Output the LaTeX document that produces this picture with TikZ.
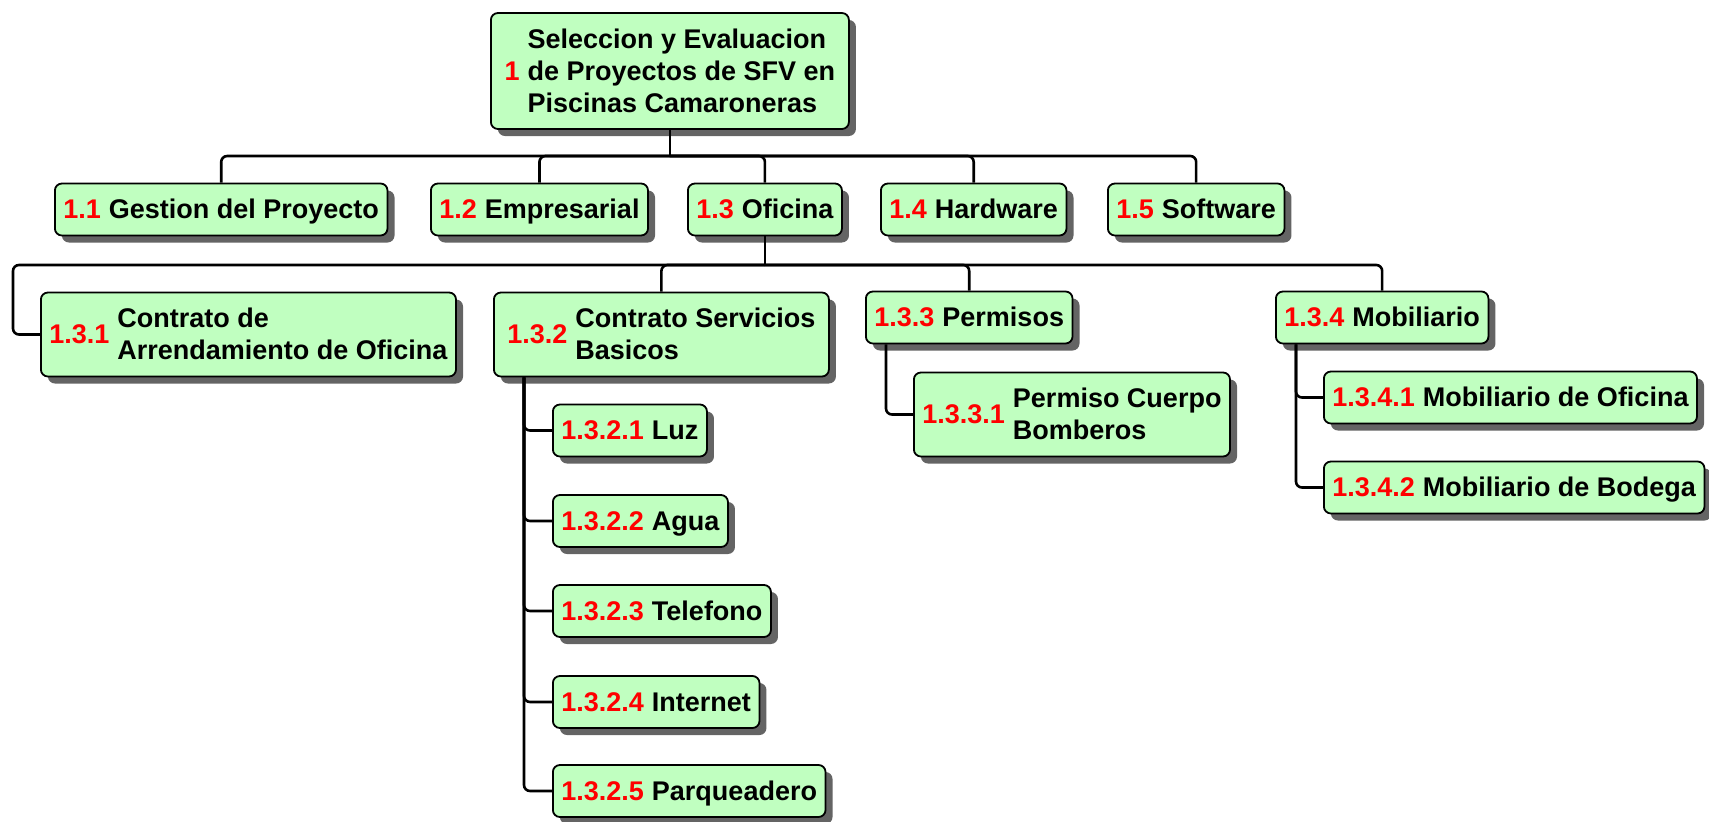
\documentclass[tikz,border=0pt]{standalone}
\usepackage{fontspec}
\setmainfont{Liberation Sans}
\usetikzlibrary{shadows}
\definecolor{boxgreen}{RGB}{192,255,192}
\definecolor{numred}{RGB}{255,0,0}
\definecolor{shadowgray}{RGB}{100,100,100}
\newcommand{\wbsentry}[2]{\raisebox{-3pt}[\height][\depth]{\begin{tabular}{@{}l@{}}\textcolor{numred}{#1}\end{tabular}\hspace{8pt}\begin{tabular}{@{}l@{}}#2\end{tabular}}}
\tikzset{
  wbsbox/.style={draw=black, line width=1.8pt, fill=boxgreen, rounded corners=7pt,
    inner xsep=8.5pt, inner ysep=10pt, anchor=west,
    font=\fontsize{27}{32}\selectfont\bfseries,
    drop shadow={shadow xshift=7pt, shadow yshift=-7pt, fill=shadowgray, opacity=1}},
  conn/.style={draw=black, line width=2.6pt, rounded corners=6pt}
}
\begin{document}
\begin{tikzpicture}[x=1pt, y=-1pt]
\useasboundingbox (0,0) rectangle (1709,822);
% nodes
\node[wbsbox, minimum width=358pt] (n1) at (490,71) {\wbsentry{1}{Seleccion y Evaluacion\\de Proyectos de SFV en\\Piscinas Camaroneras}};
\node[wbsbox] (n11) at (54,209.5) {\wbsentry{1.1}{Gestion del Proyecto}};
\node[wbsbox] (n12) at (430,209.5) {\wbsentry{1.2}{Empresarial}};
\node[wbsbox] (n13) at (687,209.5) {\wbsentry{1.3}{Oficina}};
\node[wbsbox] (n14) at (880,209.5) {\wbsentry{1.4}{Hardware}};
\node[wbsbox] (n15) at (1107,209.5) {\wbsentry{1.5}{Software}};
\node[wbsbox] (n131) at (40,334.5) {\wbsentry{1.3.1}{Contrato de\\Arrendamiento de Oficina}};
\node[wbsbox, minimum width=335pt] (n132) at (493,334.5) {\wbsentry{1.3.2}{Contrato Servicios\\Basicos}\hspace{10pt}};
\node[wbsbox] (n133) at (865,317.5) {\wbsentry{1.3.3}{Permisos}};
\node[wbsbox] (n134) at (1275,317.5) {\wbsentry{1.3.4}{Mobiliario}};
\node[wbsbox] (n1321) at (552,430.5) {\wbsentry{1.3.2.1}{Luz}};
\node[wbsbox] (n1322) at (552,521) {\wbsentry{1.3.2.2}{Agua}};
\node[wbsbox] (n1323) at (552,611) {\wbsentry{1.3.2.3}{Telefono}};
\node[wbsbox] (n1324) at (552,702) {\wbsentry{1.3.2.4}{Internet}};
\node[wbsbox] (n1325) at (552,791) {\wbsentry{1.3.2.5}{Parqueadero}};
\node[wbsbox] (n1331) at (913,414.5) {\wbsentry{1.3.3.1}{Permiso Cuerpo\\Bomberos}};
\node[wbsbox] (n1341) at (1323,397.5) {\wbsentry{1.3.4.1}{Mobiliario de Oficina}};
\node[wbsbox] (n1342) at (1323,487.5) {\wbsentry{1.3.4.2}{Mobiliario de Bodega}};
% bar coordinates
\coordinate (bar1) at (671,156);
\coordinate (bar2) at (762,265);
% level 1 connectors
\draw[conn] (n1.south) -- (n1.south |- bar1);
\foreach \c in {n11,n12,n13,n14,n15}
  \draw[conn] (\c.north) |- (n1.south |- bar1);
% level 2 connectors
\draw[conn] (n13.south) -- (n13.south |- bar2);
\draw[conn] (n131.west) -- ([xshift=-27pt]n131.west) |- (n13.south |- bar2);
\foreach \c in {n132,n133,n134}
  \draw[conn] (\c.north) |- (n13.south |- bar2);
% level 3 connectors
\foreach \c in {n1321,n1322,n1323,n1324,n1325}
  \draw[conn] ([xshift=31pt]n132.south west) |- (\c.west);
\draw[conn] ([xshift=21pt]n133.south west) |- (n1331.west);
\foreach \c in {n1341,n1342}
  \draw[conn] ([xshift=21pt]n134.south west) |- (\c.west);
\end{tikzpicture}
\end{document}
